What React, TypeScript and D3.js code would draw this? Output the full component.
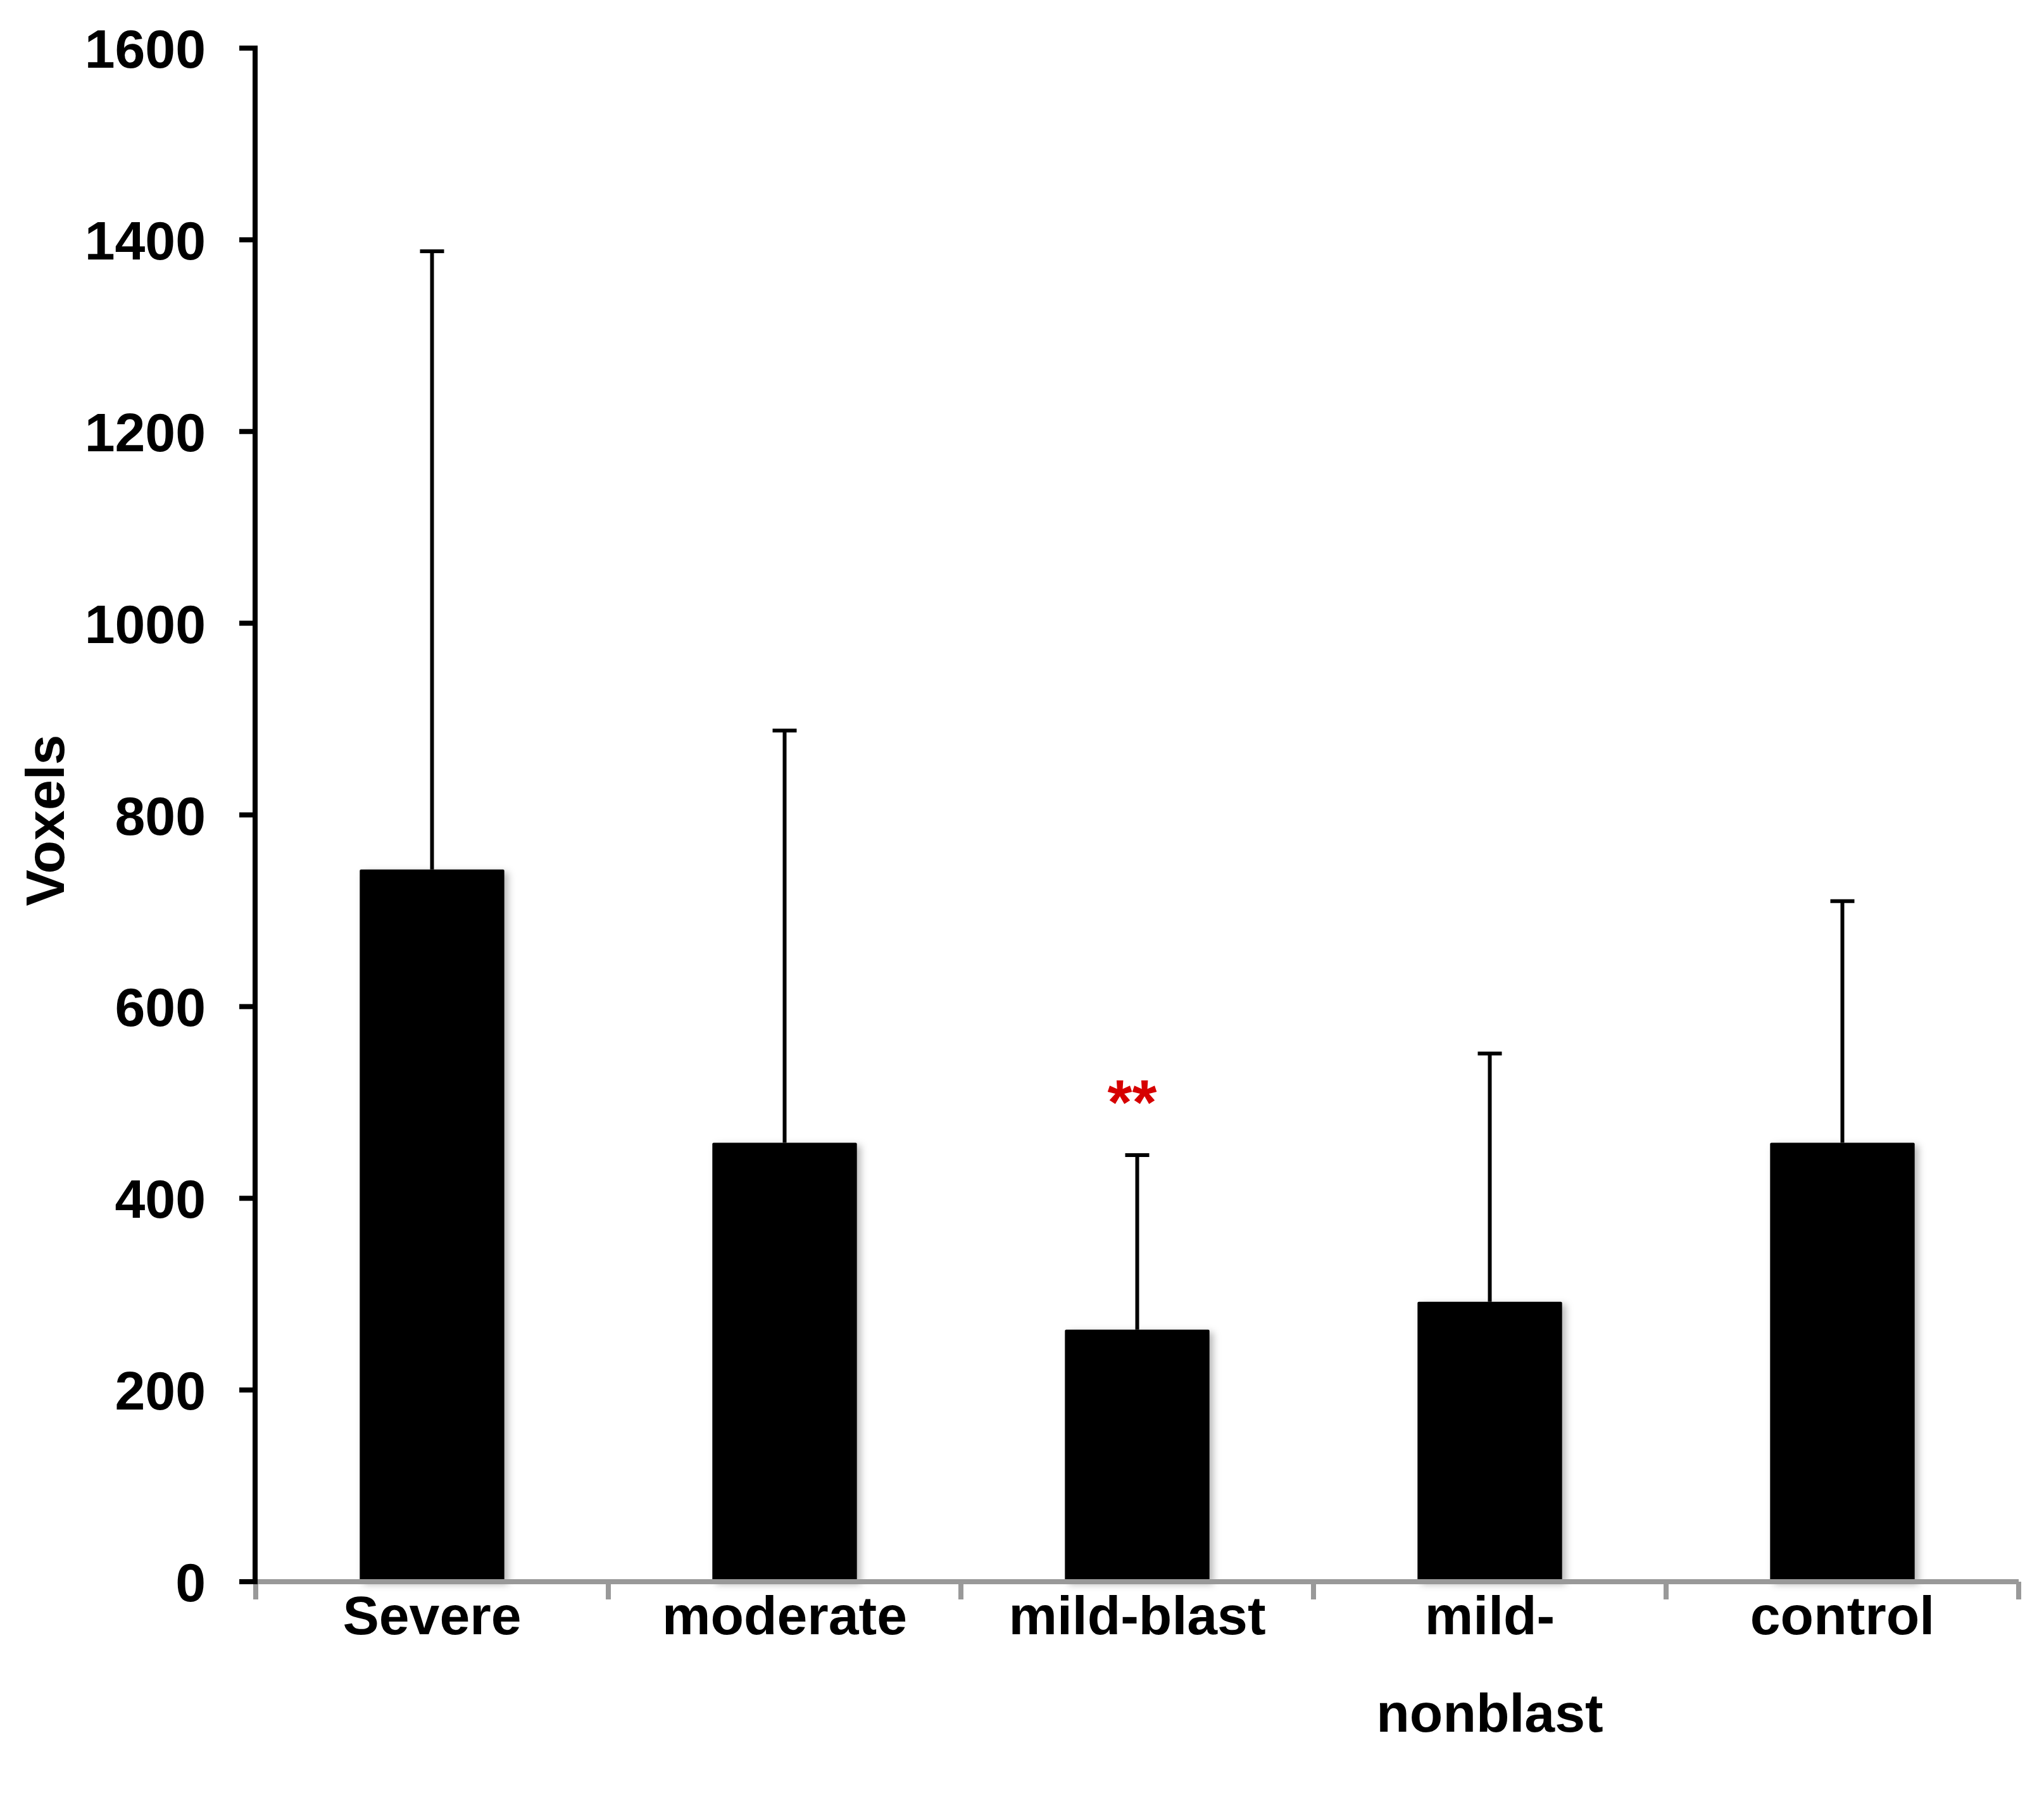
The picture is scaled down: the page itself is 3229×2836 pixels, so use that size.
import React from "react";
import * as d3 from "d3";

const categories = ["Severe", "moderate", "mild-blast", "mild-nonblast", "control"];
const categoryLines = [["Severe"], ["moderate"], ["mild-blast"], ["mild-", "nonblast"], ["control"]];
const means = [743, 458, 263, 292, 458];
const errorTops = [1388, 888, 445, 551, 710];
const yTicks = [0, 200, 400, 600, 800, 1000, 1200, 1400, 1600];
const significance = ["", "", "**", "", ""];

const W = 3229;
const H = 2836;
const FONT = "'Liberation Sans', Arial, Helvetica, sans-serif";

export default function App() {
  const xStart = 404;
  const xEnd = 3189;
  const x = d3
    .scaleBand<string>()
    .domain(categories)
    .range([xStart, xEnd])
    .paddingInner(0.59)
    .paddingOuter(0.295);
  const y = d3.scaleLinear().domain([0, 1600]).range([2499, 76]);
  const step = x.step();
  const bw = x.bandwidth();
  const boundaries = d3.range(categories.length + 1).map((i) => xStart + i * step);

  return (
    <svg
      width={W}
      height={H}
      viewBox={`0 0 ${W} ${H}`}
      style={{ position: "absolute", left: 0, top: 0, background: "#fff" }}
    >
      <defs>
        <filter id="shadow" x="-20%" y="-10%" width="140%" height="120%">
          <feDropShadow dx="6" dy="4" stdDeviation="6" floodColor="#000" floodOpacity="0.28" />
        </filter>
      </defs>
      <rect x={0} y={0} width={W} height={H} fill="#fff" />

      {/* bars */}
      {categories.map((c, i) => (
        <rect
          key={c}
          x={x(c)}
          y={y(means[i])}
          width={bw}
          height={y(0) - y(means[i])}
          fill="#000"
          rx={2}
          filter="url(#shadow)"
        />
      ))}

      {/* error bars */}
      {categories.map((c, i) => {
        const cx = (x(c) as number) + bw / 2;
        return (
          <g key={"e" + c} stroke="#000" strokeWidth={6}>
            <line x1={cx} x2={cx} y1={y(means[i])} y2={y(errorTops[i])} />
            <line x1={cx - 19} x2={cx + 19} y1={y(errorTops[i])} y2={y(errorTops[i])} />
          </g>
        );
      })}

      {/* significance */}
      {categories.map((c, i) =>
        significance[i] ? (
          <text
            key={"s" + c}
            x={(x(c) as number) + bw / 2 - 8}
            y={1776}
            textAnchor="middle"
            fontFamily={FONT}
            fontWeight="bold"
            fontSize={100}
            fill="#d60000"
          >
            {significance[i]}
          </text>
        ) : null
      )}

      {/* x axis */}
      <line x1={xStart} x2={xEnd} y1={y(0)} y2={y(0)} stroke="#999" strokeWidth={8} />
      {boundaries.map((bx, i) => (
        <line key={"xt" + i} x1={bx} x2={bx} y1={y(0)} y2={y(0) + 28} stroke="#999" strokeWidth={8} />
      ))}

      {/* y axis */}
      <line x1={403} x2={403} y1={y(1600) - 4} y2={y(0) + 4} stroke="#000" strokeWidth={8} />
      {yTicks.map((t) => (
        <g key={"yt" + t}>
          <line x1={378} x2={403} y1={y(t)} y2={y(t)} stroke="#000" strokeWidth={8} />
          <text
            x={325}
            y={y(t) + 31}
            textAnchor="end"
            fontFamily={FONT}
            fontWeight="bold"
            fontSize={86}
            fill="#000"
          >
            {t}
          </text>
        </g>
      ))}

      {/* category labels */}
      {categories.map((c, i) => (
        <text
          key={"l" + c}
          x={(x(c) as number) + bw / 2}
          y={2582}
          textAnchor="middle"
          fontFamily={FONT}
          fontWeight="bold"
          fontSize={86}
          fill="#000"
        >
          {categoryLines[i].map((ln, j) => (
            <tspan key={j} x={(x(c) as number) + bw / 2} dy={j === 0 ? 0 : 154}>
              {ln}
            </tspan>
          ))}
        </text>
      ))}

      {/* y axis title */}
      <text
        transform={`translate(101, ${1296}) rotate(-90)`}
        textAnchor="middle"
        fontFamily={FONT}
        fontWeight="bold"
        fontSize={86}
        fill="#000"
      >
        Voxels
      </text>
    </svg>
  );
}
